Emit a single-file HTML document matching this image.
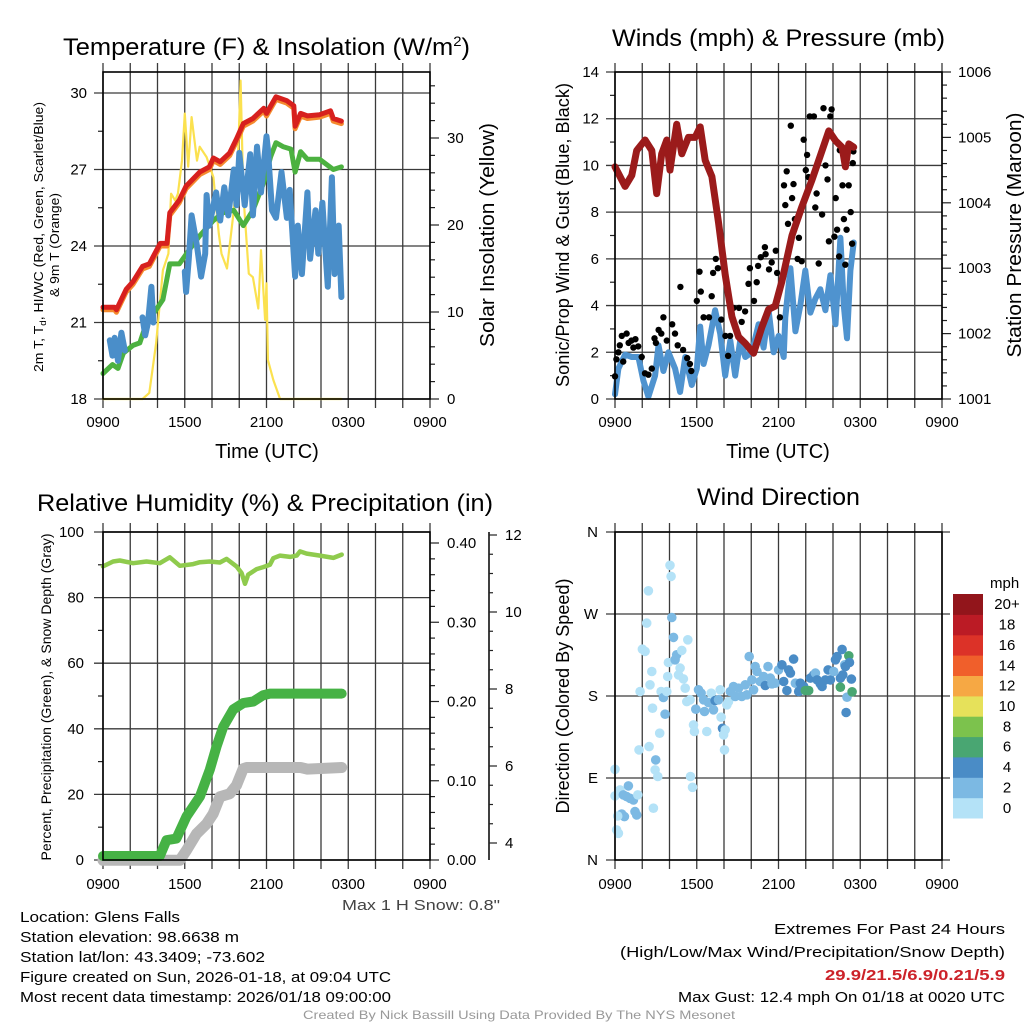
<!DOCTYPE html>
<html><head><meta charset="utf-8"><title>Glens Falls Mesonet Meteogram</title>
<style>
html,body{margin:0;padding:0;background:#fff;}
svg{display:block;font-family:"Liberation Sans",sans-serif;}
</style></head>
<body>
<svg id="chart" width="1024" height="1024" viewBox="0 0 1024 1024" xmlns="http://www.w3.org/2000/svg">
<rect x="0" y="0" width="1024" height="1024" fill="#fff"/>
<g id="layer"></g>

<text x="63" y="55" font-size="24" textLength="407" lengthAdjust="spacingAndGlyphs">Temperature (F) &amp; Insolation (W/m<tspan dy="-9" font-size="14">2</tspan><tspan dy="9">)</tspan></text>
<text x="612" y="46" font-size="24" textLength="333" lengthAdjust="spacingAndGlyphs">Winds (mph) &amp; Pressure (mb)</text>
<text x="37" y="511" font-size="24" textLength="456" lengthAdjust="spacingAndGlyphs">Relative Humidity (%) &amp; Precipitation (in)</text>
<text x="697" y="505" font-size="24" textLength="163" lengthAdjust="spacingAndGlyphs">Wind Direction</text>

<text x="267" y="458" font-size="20" text-anchor="middle">Time (UTC)</text>
<text x="778" y="458" font-size="20" text-anchor="middle">Time (UTC)</text>

<text transform="translate(43,237) rotate(-90)" font-size="13" text-anchor="middle" textLength="270" lengthAdjust="spacingAndGlyphs">2m T, T<tspan dy="3" font-size="9">d</tspan><tspan dy="-3">, HI/WC (Red, Green, Scarlet/Blue)</tspan></text>
<text transform="translate(59,245) rotate(-90)" font-size="13" text-anchor="middle" textLength="104" lengthAdjust="spacingAndGlyphs">&amp; 9m T (Orange)</text>
<text transform="translate(494,235) rotate(-90)" font-size="20" text-anchor="middle" textLength="224" lengthAdjust="spacingAndGlyphs">Solar Insolation (Yellow)</text>
<text transform="translate(569,235) rotate(-90)" font-size="18" text-anchor="middle" textLength="304" lengthAdjust="spacingAndGlyphs">Sonic/Prop Wind &amp; Gust (Blue, Black)</text>
<text transform="translate(1021,235) rotate(-90)" font-size="20" text-anchor="middle" textLength="245" lengthAdjust="spacingAndGlyphs">Station Pressure (Maroon)</text>
<text transform="translate(51,697) rotate(-90)" font-size="14" text-anchor="middle" textLength="327" lengthAdjust="spacingAndGlyphs">Percent, Precipitation (Green), &amp; Snow Depth (Gray)</text>
<text transform="translate(569,696) rotate(-90)" font-size="18" text-anchor="middle" textLength="235" lengthAdjust="spacingAndGlyphs">Direction (Colored By Speed)</text>

<text x="342" y="910" font-size="15" fill="#444" textLength="158" lengthAdjust="spacingAndGlyphs">Max 1 H Snow: 0.8"</text>

<g font-size="15">
<text x="20" y="922" textLength="160" lengthAdjust="spacingAndGlyphs">Location: Glens Falls</text>
<text x="20" y="942" textLength="219" lengthAdjust="spacingAndGlyphs">Station elevation: 98.6638 m</text>
<text x="20" y="962" textLength="245" lengthAdjust="spacingAndGlyphs">Station lat/lon: 43.3409; -73.602</text>
<text x="20" y="982" textLength="371" lengthAdjust="spacingAndGlyphs">Figure created on Sun, 2026-01-18, at 09:04 UTC</text>
<text x="20" y="1002" textLength="371" lengthAdjust="spacingAndGlyphs">Most recent data timestamp: 2026/01/18 09:00:00</text>
</g>
<g font-size="15">
<text x="774" y="934" textLength="231" lengthAdjust="spacingAndGlyphs">Extremes For Past 24 Hours</text>
<text x="620" y="957" textLength="385" lengthAdjust="spacingAndGlyphs">(High/Low/Max Wind/Precipitation/Snow Depth)</text>
<text x="825" y="980" font-weight="bold" fill="#cc2229" textLength="180" lengthAdjust="spacingAndGlyphs">29.9/21.5/6.9/0.21/5.9</text>
<text x="678" y="1002" textLength="327" lengthAdjust="spacingAndGlyphs">Max Gust: 12.4 mph On 01/18 at 0020 UTC</text>
</g>
<text x="303" y="1019" font-size="12" fill="#999" textLength="432" lengthAdjust="spacingAndGlyphs">Created By Nick Bassill Using Data Provided By The NYS Mesonet</text>
</svg>

<script>
// ---------- Temperature panel data (hours after 0900 UTC) ----------
const tempHours = [0,0.85,0.98,1.7,2.2,2.9,3.4,4.2,4.7,4.9,5.6,6.1,7.1,7.8,8.1,8.6,9.3,9.8,10.3,11,11.8,12,12.7,13.5,14,14.1,14.5,15,15.9,16.7,16.9,17.5];
const tempValues = [21.6,21.6,21.5,22.3,22.6,23.2,23.3,24.1,24.1,25.3,25.8,26.35,26.9,27.1,27.45,27.3,27.65,28.2,28.8,29.0,29.4,29.2,29.85,29.7,29.5,28.7,29.2,29.1,29.15,29.3,29.0,28.9];
const dewHours = [0,0.7,1.1,1.5,2.2,2.7,3.2,3.9,4.4,4.9,5.6,6.4,7.1,8.1,8.8,9.6,10.3,11,11.8,12.3,12.7,13.2,13.8,14.1,14.5,15,15.9,16.9,17.5];
const dewValues = [19.0,19.35,19.2,19.8,20.1,20.2,21.0,21.5,21.9,23.3,23.3,23.9,24.4,25.0,25.3,25.4,24.8,25.4,26.5,27.5,28.05,27.9,27.8,26.9,27.7,27.4,27.4,27.0,27.1];
const chillHours = [0.5,0.7,0.85,1.1,1.35,1.6,null,2.9,3.1,3.3,3.55,3.7,null,6.0,6.1,6.3,6.5,6.9,7.2,7.5,7.6,7.8,8.3,8.6,8.9,9.2,9.6,9.8,10.0,10.4,10.8,11.0,11.3,11.6,12.0,12.1,12.4,12.7,13.1,13.5,13.7,14.1,14.3,14.6,15.0,15.2,15.6,15.8,16.1,16.3,16.5,16.8,17.0,17.3,17.5];
const chillValues = [20.3,19.7,20.4,19.5,20.6,19.9,null,21.2,20.5,21.0,22.4,21.0,null,23.0,22.2,23.5,25.2,24.0,22.8,23.7,26.0,24.8,26.1,25.0,26.3,25.2,27.0,25.6,27.65,25.6,27.6,25.2,27.9,26.1,28.3,27.8,25.4,25.1,26.9,25.1,26.2,22.8,24.8,22.9,26.1,23.5,25.4,23.7,25.7,24.0,22.4,26.7,22.9,24.8,22.0];
const solarHours = [0,2.9,3.4,3.9,4.4,4.8,5.0,5.3,5.5,5.8,6.0,6.25,6.5,6.9,7.1,7.6,8.1,8.5,8.7,9.1,9.6,9.9,10.1,10.3,10.7,11.0,11.4,11.6,11.9,12.0,12.1,12.5,13.0,17.5];
const solarValues = [0,0,0.7,6.4,14.8,16.7,23.6,22.8,23.6,27.4,32.8,26.7,32.4,27.4,29.0,27.8,25.5,19.0,16.7,15.0,21.7,27.4,36.6,23.6,14.4,14.0,10.4,17.1,9.1,13.3,4.5,2.2,0,0];
const tempTicks = [18,21,24,27,30];
const solarTicks = [0,10,20,30];
const timeLabels = ["0900","1500","2100","0300","0900"];

// ---------- Winds panel data ----------
const windHours = [0,0.25,0.74,1.23,1.72,2.08,2.45,2.94,3.19,3.55,3.92,4.41,4.78,5.15,5.64,6.0,6.25,6.5,6.86,7.35,7.72,8.09,8.46,8.82,9.19,9.56,10.05,10.54,10.91,11.27,11.64,12.01,12.38,12.5,12.87,13.24,13.6,13.97,14.34,14.71,15.07,15.44,15.81,16.18,16.54,16.79,17.03,17.28,17.52];
const windValues = [0.2,1.3,1.9,1.8,1.8,0.8,0.1,1.0,2.3,1.2,2.0,1.3,0.3,1.8,0.6,1.3,3.1,1.5,2.3,3.8,2.8,1.0,2.5,1.0,2.5,1.8,2.0,3.2,2.2,3.8,2.0,2.7,1.8,3.5,5.6,2.9,4.0,5.5,3.7,4.3,4.7,3.8,5.3,3.2,6.9,4.0,2.6,5.5,6.7];
const pressHours = [0,0.25,0.74,1.23,1.59,2.21,2.7,3.06,3.43,3.8,4.04,4.53,4.9,5.39,5.88,6.25,6.62,7.11,7.6,8.09,8.58,9.07,9.56,10.17,10.78,11.27,11.76,12.25,12.99,13.72,14.46,15.2,15.69,16.18,16.67,16.91,17.16,17.52];
const pressValues = [1004.55,1004.45,1004.25,1004.42,1004.8,1004.96,1004.8,1004.14,1004.75,1004.96,1004.5,1005.2,1004.75,1005.0,1005.0,1005.16,1004.65,1004.4,1003.7,1002.9,1002.26,1001.95,1001.85,1001.7,1002.1,1002.37,1002.42,1002.8,1003.5,1003.94,1004.35,1004.8,1005.1,1004.95,1004.85,1004.55,1004.9,1004.85];
const gustHours = [0,0.1,0.25,0.5,0.85,1.0,1.2,1.5,1.7,1.96,2.2,2.45,2.7,2.9,3.2,3.55,3.8,4.2,4.4,4.8,5.0,5.3,5.6,6.0,6.2,6.3,6.5,6.9,7.1,7.2,7.4,7.55,7.8,8.1,8.3,8.45,8.7,9.1,9.3,9.55,9.8,9.9,10.2,10.4,10.5,10.7,11.0,11.05,11.3,11.5,11.8,11.9,12.1,12.4,12.5,12.6,12.7,12.9,13.0,13.1,13.2,13.4,13.5,13.7,13.85,14.0,14.1,14.2,14.3,14.6,14.7,14.8,14.95,15.2,15.3,15.45,15.6,15.7,15.8,15.9,16.1,16.2,16.3,16.45,16.5,16.7,16.8,16.9,17.0,17.15,17.3,17.4,17.45,17.5,0.35,0.6,1.35,3.0,3.4,4.6,5.5];
const gustValues = [0.97,1.7,2.0,2.7,2.8,2.4,2.5,2.56,2.25,1.8,1.1,1.04,1.3,2.6,2.96,3.5,2.5,3.2,2.8,4.8,2.1,1.75,1.2,4.2,5.45,4.6,3.5,3.5,4.4,5.4,6.0,5.6,3.4,2.7,1.85,2.7,3.9,3.9,3.3,3.75,4.93,5.6,4.2,5.0,5.7,6.07,6.5,6.2,5.55,5.85,6.35,5.4,3.5,9.15,8.3,9.75,7.5,11.7,8.6,9.2,7.7,6.0,6.9,5.9,11.1,9.8,10.45,9.5,12.1,12.1,8.2,8.8,5.8,7.9,12.45,10.0,9.4,6.75,12.1,12.4,6.95,8.6,7.25,6.1,10.65,9.15,7.7,5.75,7.25,9.15,8.0,6.65,10.1,10.6,2.3,1.6,2.2,2.4,2.8,2.3,1.5];
const windTicks = [0,2,4,6,8,10,12,14];
const pressTicks = [1001,1002,1003,1004,1005,1006];

// ---------- Humidity / precipitation panel data ----------
const rhHours = [0,0.74,1.23,2.21,3.19,4.17,4.9,5.64,6.62,7.11,7.84,8.58,9.07,9.8,10.17,10.42,10.66,11.27,11.76,12.25,12.5,12.99,13.73,14.22,14.46,14.95,15.93,16.91,17.52];
const rhValues = [89.5,91,91.3,90.5,91,90.5,92.3,89.7,90.2,90.8,91,90.7,91.8,89.5,87.5,84.2,87,88.7,89.3,90,92,92.8,92.4,92.8,94.1,93.4,92.8,92.1,93.1];
const precipHours = [0,4.17,4.66,5.39,6.13,7.11,7.84,8.33,8.82,9.56,10.29,11.03,11.76,12.25,17.52];
const precipValues = [0.005,0.005,0.025,0.027,0.055,0.08,0.114,0.143,0.168,0.19,0.198,0.2,0.208,0.21,0.21];
const snowHours = [0,5.64,6.13,6.86,7.6,8.09,8.58,9.31,9.8,10.29,10.54,14.5,15.0,17.52];
const snowValues = [3.55,3.55,3.81,4.24,4.5,4.76,5.2,5.28,5.5,5.93,5.96,5.96,5.92,5.96];
const rhTicks = [0,20,40,60,80,100];
const precipTicks = [0,0.1,0.2,0.3,0.4];
const precipTickLabels = ["0.00","0.10","0.20","0.30","0.40"];
const snowTicks = [4,6,8,10,12];

// ---------- Wind direction panel data ----------
const dirHours = [0,0,0.37,0.61,0.98,0.86,1.1,1.35,1.67,0.49,0.69,0.2,0.12,0.25,1.47,1.59,1.76,1.84,2.01,2.21,2.33,2.45,2.5,2.7,2.57,2.75,2.82,2.94,2.99,3.14,3.28,3.38,3.55,3.68,3.8,3.87,3.92,4.04,4.12,4.17,4.29,4.41,4.53,4.66,4.78,4.9,5.02,5.15,5.34,5.27,5.51,5.76,5.83,5.54,5.69,5.93,6.13,6.32,6.5,6.57,6.74,6.86,7.06,7.23,7.35,7.6,7.72,7.79,7.89,7.97,8.09,8.04,8.21,8.33,8.46,8.7,8.82,9.07,9.31,9.56,9.68,9.85,10.05,10.17,10.29,10.42,10.66,10.91,11.03,11.23,11.4,11.52,11.76,12.01,12.25,12.38,12.62,12.75,12.87,13.11,13.24,13.48,13.6,13.85,13.97,14.22,14.34,14.58,14.71,14.83,15.07,15.2,15.44,15.64,15.81,16.05,16.18,16.3,16.54,16.67,16.72,16.86,16.96,17.03,17.16,17.21,17.35,17.4,16.54,16.91];
const dirDegrees = [99.6,70.3,76.9,71.4,81.3,69.6,67.7,65.9,71.4,50.5,47.6,48.3,33,29.3,53.1,49.4,120.8,184.9,231.4,228.9,260,295.5,124.5,206.9,192.3,166.6,56.8,98.9,109.9,91.6,139.2,184.9,178.3,160,184.9,201.4,216.8,323.4,311.3,266.2,244.3,219.7,225.2,203.2,210.6,230,198.8,188.6,241.7,173.9,175.8,148.3,141,91.6,79.8,165.5,186.8,183.1,175.8,163,141,172.8,183.1,164.8,175,175.8,186.8,156.7,144.6,137.3,142.8,120.8,170.3,173.9,184.9,190.4,179.4,188.6,179.4,192.3,181.3,223.4,197.7,186.8,212.4,206.9,195.9,201.4,191.5,212.4,199.6,193.4,194.1,208.7,214.2,195.9,186,208.7,205.1,220.5,194.1,184.9,194.1,190.4,186,186,199.6,203.2,205.1,197.7,193.4,190.4,197.7,208.7,197.7,206.9,219.7,223.4,199.6,231.1,203.2,214.2,161.9,178.7,224.1,216.8,198.5,184.6,189.7,212.4];
const dirSpeeds = [1,1,1,3,3,3,3,3,1,3,3,1,1,1,3,3,1,1,1,1,1,1,1,1,1,1,1,1,3,1,1,1,3,3,1,1,1,1,1,3,3,3,3,1,1,1,1,1,1,1,1,1,1,1,1,3,3,3,3,3,1,3,1,3,5,3,1,1,5,1,1,1,1,1,3,3,3,3,3,3,3,3,3,3,3,3,3,3,5,3,3,3,3,3,5,5,5,5,5,5,3,5,5,5,7,7,5,5,3,5,5,5,5,5,5,3,5,5,5,5,5,3,5,3,7,5,5,7,7,5];
const dirTicks = [0,90,180,270,360];
const dirTickLabels = ["N","E","S","W","N"];
const speedBins = [0,2,4,6,8,10,12,14,16,18,20];
const speedBinLabels = ["0","2","4","6","8","10","12","14","16","18","20+"];
const speedColors = ["#b4e2f7","#7cb9e3","#4a8cc6","#49a672","#7cc24d","#e6e15a","#f6a844","#f05f2b","#dc3228","#bb1b25","#92151b"];

// ---------- helpers ----------
const NS = "http://www.w3.org/2000/svg";
const layer = document.getElementById("layer");
const PX_PER_HOUR = 327 / 24;
function mk(tag, attrs) {
  const e = document.createElementNS(NS, tag);
  for (const k in attrs) e.setAttribute(k, attrs[k]);
  layer.appendChild(e);
  return e;
}
function timeX(x0) { return h => x0 + h * PX_PER_HOUR; }
function linY(top, bottom, vmin, vmax) { return v => bottom - (v - vmin) / (vmax - vmin) * (bottom - top); }
function pathFrom(hs, vs, xs, ys) {
  let d = "", pen = false;
  for (let i = 0; i < hs.length; i++) {
    if (hs[i] === null || vs[i] === null) { pen = false; continue; }
    d += (pen ? "L" : "M") + xs(hs[i]).toFixed(1) + "," + ys(vs[i]).toFixed(1);
    pen = true;
  }
  return d;
}
function drawSeries(hs, vs, xs, ys, color, width, name) {
  const p = mk("path", {d: pathFrom(hs, vs, xs, ys), fill: "none", stroke: color, "stroke-width": width, "stroke-linejoin": "round", "stroke-linecap": "round"});
  
  
  return p;
}
function timeGrid(x0, top, bottom, labelY, prefix) {
  const xs = timeX(x0);
  for (let k = 0; k <= 12; k++) {
    const x = xs(k * 2);
    const g = mk("line", {x1: x, y1: top - 9, x2: x, y2: bottom + 9, stroke: "#3a3a3a", "stroke-width": 1.3});
    
    
  }
  for (let k = 0; k < timeLabels.length; k++) {
    const t = mk("text", {x: xs(k * 6), y: labelY, "font-size": 15, "text-anchor": "middle"});
    t.textContent = timeLabels[k];
    
    
  }
}
function hGrid(x0, x1, y, prefix) {
  const g = mk("line", {x1: x0 - 9, y1: y, x2: x1, y2: y, stroke: "#3a3a3a", "stroke-width": 1.3});
  
  
}
function tickLabel(x, y, txt, anchor, prefix, size) {
  const t = mk("text", {x: x, y: y + 5, "font-size": size || 15, "text-anchor": anchor});
  t.textContent = txt;
  
  
}
function tick(x1, y, len, prefix) {
  const t = mk("line", {x1: x1, y1: y, x2: x1 + len, y2: y, stroke: "#222", "stroke-width": 1.2});
  
  
}
function frame(x0, top, x1, bottom, prefix) {
  const r = mk("rect", {x: x0, y: top, width: x1 - x0, height: bottom - top, fill: "none", stroke: "#000", "stroke-width": 1.6});
  
  
}

// ---------- Panel 1: temperature ----------
(function () {
  const X0 = 103, X1 = 430, TOP = 72, BOT = 399;
  const xs = timeX(X0);
  const yT = v => BOT - (v - 18) * 25.5;
  const yS = v => BOT - v * 8.7;
  timeGrid(X0, TOP, BOT, 427, "temperature");
  tempTicks.forEach(v => { hGrid(X0, X1, yT(v), "temperature"); tickLabel(87, yT(v), String(v), "end", "temperature-y"); });
  [19.5, 22.5, 25.5, 28.5].forEach(v => tick(X0 - 5, yT(v), 5, "temperature-minor"));
  for (let v = 0; v <= 36; v += 2) tick(X1, yS(v), v % 10 === 0 ? 9 : 5, "solar");
  solarTicks.forEach(v => tickLabel(447, yS(v), String(v), "start", "solar-y"));
  drawSeries(solarHours, solarValues, xs, yS, "#fbe14f", 2.2, "solar-insolation-line");
  drawSeries(dewHours, dewValues, xs, yT, "#4cb140", 5, "dewpoint-line");
  drawSeries(chillHours, chillValues, xs, yT, "#4a8ec9", 6, "wind-chill-line");
  drawSeries(tempHours, tempValues.map(v => v - 0.1), xs, yT, "#f58a2e", 5, "9m-temperature-line");
  drawSeries(tempHours, tempValues, xs, yT, "#d7201e", 5, "2m-temperature-line");
  frame(X0, TOP, X1, BOT, "temperature");
})();

// ---------- Panel 2: winds ----------
(function () {
  const X0 = 615, X1 = 942, TOP = 72, BOT = 399;
  const xs = timeX(X0);
  const yW = linY(TOP, BOT, 0, 14);
  const yP = linY(TOP, BOT, 1001, 1006);
  timeGrid(X0, TOP, BOT, 427, "winds");
  windTicks.forEach(v => { hGrid(X0, X1, yW(v), "winds"); tickLabel(599, yW(v), String(v), "end", "wind-y"); });
  for (let v = 1; v < 14; v += 2) tick(X0 - 5, yW(v), 5, "wind-minor");
  for (let v = 1001; v <= 1006.001; v += 0.2) tick(X1, yP(v), Math.abs(v - Math.round(v)) < 0.01 ? 9 : 5, "pressure");
  pressTicks.forEach(v => tickLabel(958, yP(v), String(v), "start", "pressure-y"));
  drawSeries(windHours, windValues, xs, yW, "#4f93cf", 6, "sustained-wind-line");
  for (let i = 0; i < gustHours.length; i++) {
    const c = mk("circle", {cx: xs(gustHours[i]).toFixed(1), cy: yW(gustValues[i]).toFixed(1), r: 3.2, fill: "#000"});
    
    
  }
  drawSeries(pressHours, pressValues, xs, yP, "#9b1b1b", 7, "station-pressure-line");
  frame(X0, TOP, X1, BOT, "winds");
})();

// ---------- Panel 3: humidity / precip ----------
(function () {
  const X0 = 103, X1 = 430, TOP = 532, BOT = 860;
  const xs = timeX(X0);
  const yR = linY(TOP, BOT, 0, 100);
  const yPr = v => BOT - v * 792.5;
  const ySn = v => 843 - (v - 4) * 38.5;
  timeGrid(X0, TOP, BOT, 889, "humidity");
  rhTicks.forEach(v => { hGrid(X0, X1, yR(v), "humidity"); tickLabel(84, yR(v), String(v), "end", "humidity-y"); });
  for (let v = 10; v < 100; v += 20) tick(X0 - 5, yR(v), 5, "humidity-minor");
  for (let v = 0; v <= 0.4001; v += 0.02) tick(X1, yPr(v), Math.abs(v * 10 - Math.round(v * 10)) < 0.01 ? 9 : 5, "precip");
  precipTicks.forEach((v, i) => tickLabel(447, yPr(v), precipTickLabels[i], "start", "precip-y"));
  const ax = mk("line", {x1: 489, y1: TOP, x2: 489, y2: BOT, stroke: "#000", "stroke-width": 1.5});
  
  
  for (let v = 4; v <= 12; v += 0.5) tick(489, ySn(v), Number.isInteger(v / 2) ? 8 : 4, "snow");
  snowTicks.forEach(v => tickLabel(505, ySn(v), String(v), "start", "snow-y"));
  drawSeries(rhHours, rhValues, xs, yR, "#8fcb4d", 4.5, "relative-humidity-line");
  drawSeries(snowHours, snowValues, xs, ySn, "#b7b7b7", 11, "snow-depth-line");
  drawSeries(precipHours, precipValues, xs, yPr, "#46b245", 10, "precipitation-line");
  frame(X0, TOP, X1, BOT, "humidity");
})();

// ---------- Panel 4: wind direction ----------
(function () {
  const X0 = 615, X1 = 942, TOP = 532, BOT = 860;
  const xs = timeX(X0);
  const yD = linY(TOP, BOT, 0, 360);
  timeGrid(X0, TOP, BOT, 889, "direction");
  dirTicks.forEach((v, i) => {
    hGrid(X0, X1 + 8, yD(v), "direction");
    tickLabel(598, yD(v), dirTickLabels[i], "end", "direction-y");
  });
  for (let i = 0; i < dirHours.length; i++) {
    let bin = 0;
    for (let b = 0; b < speedBins.length; b++) if (dirSpeeds[i] >= speedBins[b]) bin = b;
    const c = mk("circle", {cx: xs(dirHours[i]).toFixed(1), cy: yD(dirDegrees[i]).toFixed(1), r: 4.8, fill: speedColors[bin]});
    
    
  }
  frame(X0, TOP, X1, BOT, "direction");
  // colour bar
  const cbTop = 594, cbBot = 818, n = speedColors.length, h = (cbBot - cbTop) / n;
  for (let i = 0; i < n; i++) {
    const y = cbBot - (i + 1) * h;
    const r = mk("rect", {x: 953, y: y.toFixed(1), width: 30, height: (h + 0.5).toFixed(1), fill: speedColors[i]});
    
    
    const t = mk("text", {x: 1007, y: (y + h / 2 + 5).toFixed(1), "font-size": 15, "text-anchor": "middle"});
    t.textContent = speedBinLabels[i];
    
    
  }
  const u = mk("text", {x: 990, y: 588, "font-size": 15});
  u.textContent = "mph";
  
  
})();
</script>
</body></html>
